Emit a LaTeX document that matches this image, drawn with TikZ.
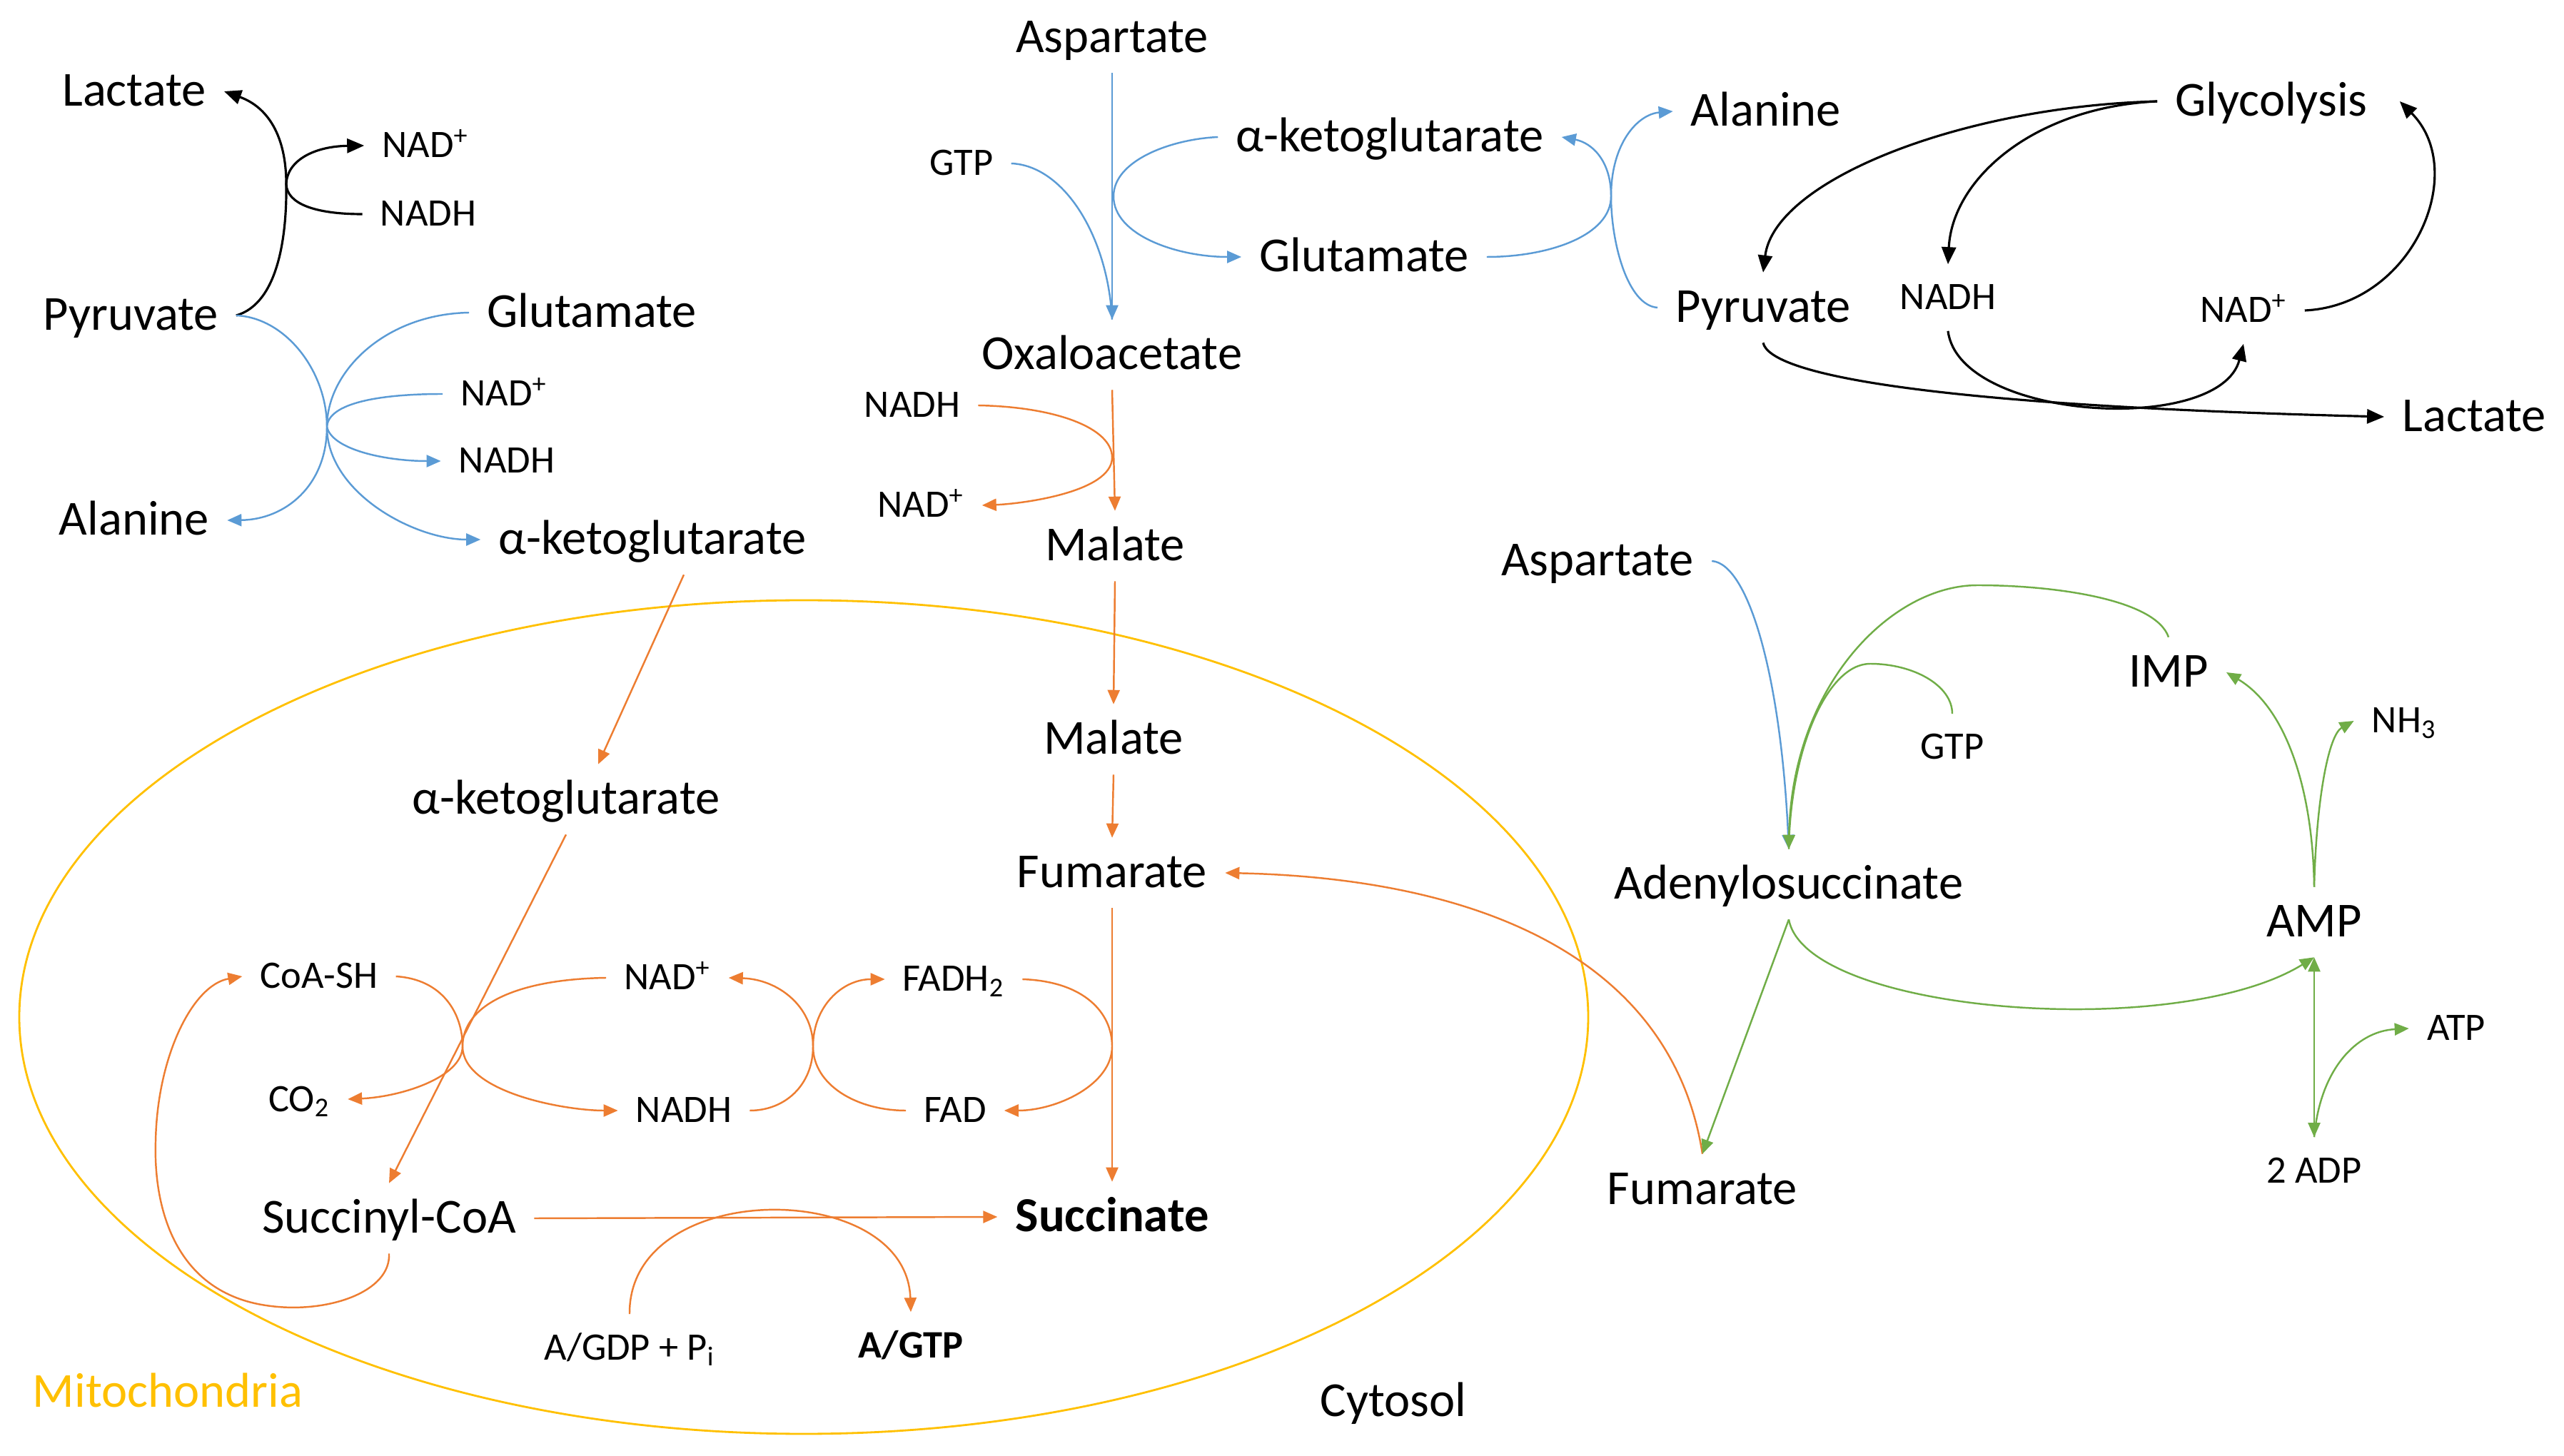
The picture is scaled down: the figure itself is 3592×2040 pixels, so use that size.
\documentclass[tikz,border=0pt]{standalone}
\usepackage{fontspec}
\setmainfont{Carlito}
\usetikzlibrary{arrows.meta}
\definecolor{cblue}{HTML}{5B9BD5}
\definecolor{corange}{HTML}{ED7D31}
\definecolor{cgreen}{HTML}{70AD47}
\definecolor{cyellow}{HTML}{FFC000}

\begin{document}
\begin{tikzpicture}[
  x=0.1mm, y=-0.1mm,
  >={Triangle[length=2mm,width=1.7mm]},
  lbl/.style={font=\fontsize{19.5}{23}\selectfont,text height=5.2mm,text depth=1mm,inner xsep=7pt,inner ysep=5pt},
  sm/.style={font=\fontsize{15.5}{18}\selectfont,text height=4.2mm,text depth=0.8mm,inner xsep=7pt,inner ysep=6pt},
  blk/.style={draw=black,line width=0.9pt,>={Triangle[length=2.4mm,width=2mm]}},
  blu/.style={draw=cblue,line width=0.7pt},
  org/.style={draw=corange,line width=0.7pt},
  grn/.style={draw=cgreen,line width=0.7pt}
]
\useasboundingbox (0,0) rectangle (3592,2040);
\draw[cyellow,line width=0.8pt] (1126,1425) ellipse [x radius=109.9mm,y radius=58.4mm];

\node[lbl] (lac1) at (188,128) {Lactate};
\node[sm] (nadp1) at (596,204) {NAD\textsuperscript{+}};
\node[sm] (nadh1) at (600,300) {NADH};
\node[lbl] (pyr1) at (183,442) {Pyruvate};
\node[lbl] (glu1) at (829,438) {Glutamate};
\node[sm] (nadp2) at (706,552) {NAD\textsuperscript{+}};
\node[sm] (nadh2) at (710,646) {NADH};
\node[lbl] (ala1) at (188,729) {Alanine};
\node[lbl] (akg1) at (914,756) {α-ketoglutarate};

\node[lbl] (asp1) at (1558,53) {Aspartate};
\node[sm] (gtp1) at (1347,229) {GTP};
\node[lbl] (akg2) at (1947,192) {α-ketoglutarate};
\node[lbl] (glu2) at (1911,360) {Glutamate};
\node[lbl] (oaa) at (1558,497) {Oxaloacetate};
\node[sm] (nadh3) at (1278,568) {NADH};
\node[sm] (nadp3) at (1290,708) {NAD\textsuperscript{+}};
\node[lbl] (mal1) at (1562,765) {Malate};

\node[lbl] (ala2) at (2474,156) {Alanine};
\node[lbl] (pyr2) at (2470,431) {Pyruvate};
\node[lbl] (glyc) at (3182,142) {Glycolysis};
\node[sm] (nadh4) at (2729,417) {NADH};
\node[sm] (nadp4) at (3143,435) {NAD\textsuperscript{+}};
\node[lbl] (lac2) at (3466,584) {Lactate};

\node[lbl] (mal2) at (1560,1036) {Malate};
\node[lbl] (fum1) at (1558,1223) {Fumarate};
\node[lbl] (akg3) at (793,1120) {α-ketoglutarate};
\node[sm] (coa) at (447,1368) {CoA-SH};
\node[sm] (nadp5) at (935,1370) {NAD\textsuperscript{+}};
\node[sm] (fadh) at (1336,1372) {FADH\textsubscript{2}};
\node[sm] (co2) at (419,1540) {CO\textsubscript{2}};
\node[sm] (nadh5) at (958,1556) {NADH};
\node[sm] (fad) at (1338,1556) {FAD};
\node[lbl] (succoa) at (545,1707) {Succinyl-CoA};
\node[lbl] (succ) at (1558,1705) {\textbf{Succinate}};
\node[sm] (agdp) at (882,1888) {A/GDP + P\textsubscript{i}};
\node[sm] (agtp) at (1276,1885) {\textbf{A/GTP}};
\node[lbl,text=cyellow] (mito) at (235,1950) {Mitochondria};
\node[lbl] (cyto) at (1952,1963) {Cytosol};

\node[lbl] (asp2) at (2238,786) {Aspartate};
\node[lbl] (imp) at (3038,942) {IMP};
\node[sm] (gtp2) at (2735,1047) {GTP};
\node[sm] (nh3) at (3368,1010) {NH\textsubscript{3}};
\node[lbl] (ados) at (2506,1239) {Adenylosuccinate};
\node[lbl] (amp) at (3242,1292) {AMP};
\node[sm] (atp) at (3441,1441) {ATP};
\node[sm] (adp) at (3242,1640) {2 ADP};
\node[lbl] (fum2) at (2385,1666) {Fumarate};

\coordinate (pvA) at (401,258);
\coordinate (pvB) at (458,598);
\coordinate (pvC) at (1560,275);
\coordinate (pvD) at (2257,275);
\coordinate (pvE) at (1558,641);
\coordinate (pvF) at (1558,1466);
\coordinate (pvG) at (1139,1466);
\coordinate (pvH) at (648,1466);

\draw[blk,->] (pyr1.east) .. controls (390,425) and (402,330) .. (pvA) .. controls (401,190) and (375,150) .. (lac1.east);
\draw[blk,->] (nadh1.west) .. controls (440,300) and (402,285) .. (pvA) .. controls (402,225) and (440,205) .. (nadp1.west);
\draw[blu,->] (pyr1.east) .. controls (400,445) and (458,520) .. (pvB) .. controls (458,680) and (400,728) .. (ala1.east);
\draw[blu,->] (glu1.west) .. controls (540,440) and (458,520) .. (pvB) .. controls (458,690) and (580,756) .. (akg1.west);
\draw[blu,->] (nadp2.west) .. controls (530,552) and (460,565) .. (pvB) .. controls (465,630) and (540,646) .. (nadh2.west);

\draw[blu,->] (asp1.south) -- (oaa.north);
\draw[blu] (gtp1.east) .. controls (1490,232) and (1552,330) .. (oaa.north);
\draw[blu,->] (akg2.west) .. controls (1640,195) and (1560,225) .. (pvC) .. controls (1560,330) and (1650,360) .. (glu2.west);
\draw[blu,->] (glu2.east) .. controls (2170,360) and (2257,330) .. (pvD) .. controls (2257,225) and (2230,200) .. (akg2.east);
\draw[blu,->] (pyr2.west) .. controls (2280,428) and (2257,340) .. (pvD) .. controls (2257,200) and (2295,160) .. (ala2.west);

\draw[blk,->] (glyc.west) .. controls (2750,149) and (2486,252) .. (pyr2.north);
\draw[blk,->] (glyc.west) .. controls (2850,150) and (2735,250) .. (nadh4.north);
\draw[blk,->] (nadp4.east) .. controls (3380,428) and (3460,240) .. ([xshift=2mm]glyc.east);
\draw[blk,->] (pyr2.south) .. controls (2480,525) and (2700,568) .. (lac2.west);
\draw[blk,->] (nadh4.south) .. controls (2745,590) and (3110,610) .. (nadp4.south);

\draw[org,->] (oaa.south) -- (mal1.north);
\draw[org,->] (nadh3.east) .. controls (1480,570) and (1558,600) .. (pvE) .. controls (1558,690) and (1430,706) .. (nadp3.east);
\draw[org,->] (mal1.south) -- (mal2.north);
\draw[org,->] (mal2.south) -- (fum1.north);
\draw[org,->] (fum1.south) -- (succ.north);
\draw[org,->] (fadh.east) .. controls (1520,1375) and (1558,1420) .. (pvF) .. controls (1558,1520) and (1480,1556) .. (fad.east);
\draw[org,->] (fad.west) .. controls (1200,1556) and (1139,1520) .. (pvG) .. controls (1139,1410) and (1180,1372) .. (fadh.west);
\draw[org,->] (nadh5.east) .. controls (1100,1556) and (1139,1520) .. (pvG) .. controls (1139,1410) and (1090,1372) .. (nadp5.east);
\draw[org,->] (nadp5.west) .. controls (720,1372) and (648,1410) .. (pvH) .. controls (648,1530) and (790,1556) .. (nadh5.west);
\draw[org,->] (coa.east) .. controls (620,1372) and (648,1420) .. (pvH) .. controls (648,1510) and (560,1537) .. (co2.east);
\draw[org,->] ([xshift=4.4mm]akg1.south) -- ([xshift=4.5mm]akg3.north);
\draw[org,->] (akg3.south) -- (succoa.north);
\draw[org,->] (succoa.east) -- (succ.west);
\draw[org,->] (agdp.north) .. controls (880,1650) and (1270,1650) .. (agtp.north);
\draw[org,->] (succoa.south) .. controls (548,1810) and (460,1840) .. (380,1830) .. controls (250,1815) and (215,1700) .. (218,1600) .. controls (220,1480) and (270,1380) .. (coa.west);
\draw[org,->] (fum2.north) .. controls (2340,1330) and (2050,1230) .. (fum1.east);

\draw[blu,->] (asp2.east) .. controls (2450,790) and (2495,950) .. (ados.north);
\draw[grn,->] (imp.north) .. controls (3020,840) and (2880,820) .. (2770,820) .. controls (2650,820) and (2510,960) .. (ados.north);
\draw[grn] (gtp2.north) .. controls (2735,960) and (2680,930) .. (2620,930) .. controls (2560,930) and (2508,1050) .. (ados.north);
\draw[grn,->] (ados.south) -- (fum2.north);
\draw[grn,->] (ados.south) .. controls (2530,1420) and (3050,1460) .. (amp.south);
\draw[grn,->] (amp.north) .. controls (3240,1100) and (3200,990) .. (imp.east);
\draw[grn,->] (amp.north) .. controls (3245,1120) and (3262,1030) .. (nh3.west);
\draw[grn,<->] (amp.south) -- (adp.north);
\draw[grn,->] (adp.north) .. controls (3250,1500) and (3300,1445) .. (atp.west);
\end{tikzpicture}
\end{document}
